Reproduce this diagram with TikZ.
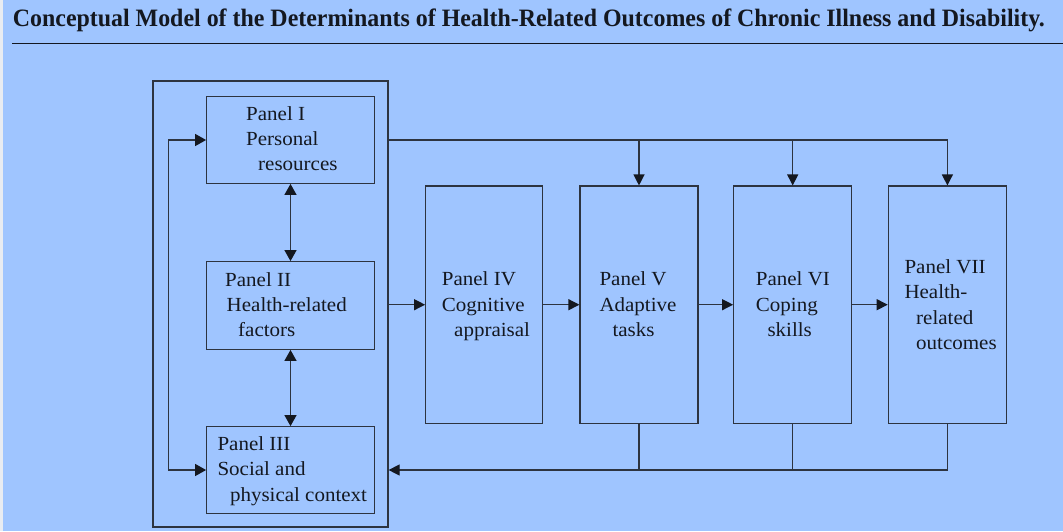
\documentclass[tikz,border=0pt]{standalone}
\usepackage{fontspec}
\setmainfont{Liberation Serif}[FakeStretch=1.05]
\usepackage{graphicx}
\usetikzlibrary{arrows.meta}
\definecolor{bgblue}{RGB}{159,197,255}
\definecolor{edge}{RGB}{20,24,32}
\definecolor{linec}{RGB}{45,52,64}
\definecolor{strip}{RGB}{232,236,242}
\tikzset{
  panel/.style={draw=linec, line width=1.2pt, inner sep=0pt},
  group/.style={draw=linec, line width=1.2pt, inner sep=0pt, minimum width=235pt, minimum height=446pt},
  smallbox/.style={panel, minimum width=167.6pt, minimum height=86.6pt},
  tallbox/.style={panel, minimum width=118pt, minimum height=237.3pt},
  conn/.style={draw=linec, line width=1.2pt},
  arr/.style={conn, -{Triangle[length=11pt,width=11pt]}, arrows={[color=edge]}},
  darr/.style={conn, {Triangle[length=11pt,width=12pt]}-{Triangle[length=11pt,width=12pt]}, arrows={[color=edge]}},
  label/.style={anchor=base west, inner sep=0pt, text=edge,
    font=\fontsize{20}{25.4}\selectfont},
}
\newcommand{\panellines}[1]{\begin{tabular}[t]{@{}l@{}}#1\end{tabular}}
\begin{document}
\begin{tikzpicture}[x=1pt, y=-1pt]
  \useasboundingbox (0,0) rectangle (1063,531);
  \fill[bgblue] (0,0) rectangle (1063,531);
  \fill[strip] (0,0) rectangle (3,531);

  % heading and rule
  \node[anchor=base west, inner sep=0pt, text=edge] (title) at (12.7,26.7)
    {\resizebox{1032pt}{\height}{\fontsize{25}{30}\selectfont\bfseries Conceptual Model of the Determinants of Health-Related Outcomes of Chronic Illness and Disability.}};
  \draw[edge, line width=1.6pt] (12,43.3) -- (1063,43.3);

  % left group of panels
  \node[group] (grp) at (270.5,304) {};
  \node[smallbox] (p1) at (290.5,140) {};
  \node[smallbox, minimum height=87.6pt] (p2) at (290.5,305.5) {};
  \node[smallbox] (p3) at (290.5,470) {};

  % chain of panels
  \node[tallbox, minimum width=116.8pt] (p4) at (484.1,304.7) {};
  \node[tallbox] (p5) at (639,304.7) {};
  \node[tallbox] (p6) at (792.7,304.7) {};
  \node[tallbox, minimum width=118.2pt] (p7) at (947.4,304.7) {};

  % panel texts
  \node[label] (t1) at (246,120) {\panellines{Panel I\\Personal\\\hspace*{12pt}resources}};
  \node[label] (t2) at (225,286) {\panellines{Panel II\\\hspace*{1.5pt}Health-related\\\hspace*{13pt}factors}};
  \node[label] (t3) at (217.3,450.5) {\panellines{Panel III\\Social and\\\hspace*{12.5pt}physical context}};
  \node[label] (t4) at (441.7,285.7) {\panellines{Panel IV\\Cognitive\\\hspace*{12.3pt}appraisal}};
  \node[label] (t5) at (599.3,285.7) {\panellines{Panel V\\Adaptive\\\hspace*{13pt}tasks}};
  \node[label] (t6) at (755.7,285.7) {\panellines{Panel VI\\Coping\\\hspace*{11.6pt}skills}};
  \node[label] (t7) at (904.3,273.3) {\panellines{Panel VII\\Health-\\\hspace*{11.7pt}related\\\hspace*{11.7pt}outcomes}};

  % links inside the left group
  \draw[darr] (p1.south) -- (p2.north);
  \draw[darr] (p2.south) -- (p3.north);
  \draw[darr] (p1.west) -- ++(-37.7,0) |- (p3.west);

  % links from personal resources to panels V-VII
  \coordinate (topbus) at (grp.east |- p1.east);
  \draw[arr] (topbus) -| (p7.north);
  \draw[arr] (topbus -| p5.north) -- (p5.north);
  \draw[arr] (topbus -| p6.north) -- (p6.north);

  % main chain
  \draw[arr] (grp.east |- p4.west) -- (p4.west);
  \draw[arr] (p4.east) -- (p5.west);
  \draw[arr] (p5.east) -- (p6.west);
  \draw[arr] (p6.east) -- (p7.west);

  % feedback to the context panel group
  \coordinate (botbus) at (grp.east |- p3.west);
  \draw[arr] (p7.south) |- (botbus);
  \draw[conn] (p5.south) -- (p5.south |- botbus);
  \draw[conn] (p6.south) -- (p6.south |- botbus);
\end{tikzpicture}
\end{document}
